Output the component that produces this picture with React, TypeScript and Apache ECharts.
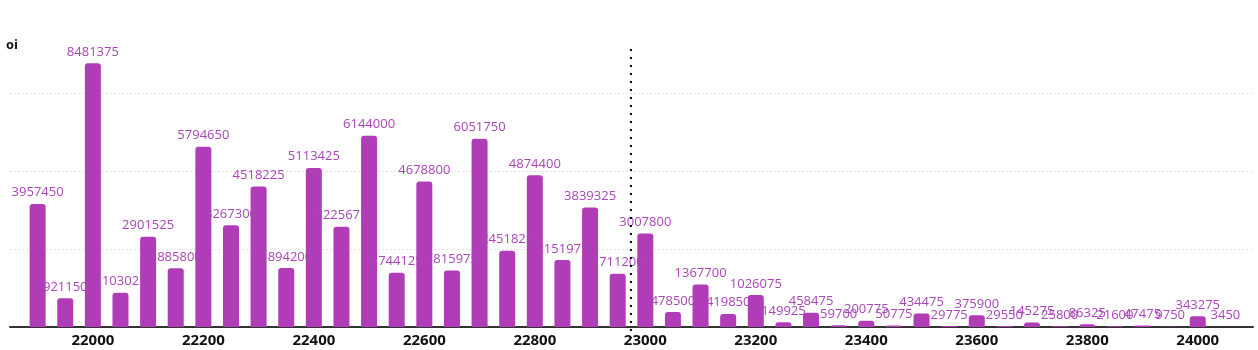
import React, { useEffect, useRef } from "react";
import * as echarts from "echarts";

const strikes = [
  21900, 21950, 22000, 22050, 22100, 22150, 22200, 22250, 22300, 22350,
  22400, 22450, 22500, 22550, 22600, 22650, 22700, 22750, 22800, 22850,
  22900, 22950, 23000, 23050, 23100, 23150, 23200, 23250, 23300, 23350,
  23400, 23450, 23500, 23550, 23600, 23650, 23700, 23750, 23800, 23850,
  23900, 23950, 24000, 24050,
];
const oi = [
  3957450, 921150, 8481375, 1103025, 2901525, 1885800, 5794650, 3267300, 4518225, 1894200,
  5113425, 3225675, 6144000, 1744125, 4678800, 1815975, 6051750, 2451825, 4874400, 2151975,
  3839325, 1711200, 3007800, 478500, 1367700, 419850, 1026075, 149925, 458475, 59700,
  200775, 50775, 434475, 29775, 375900, 29550, 145275, 25800, 86325, 21600,
  47475, 9750, 343275, 3450,
];
const gridValues = [2500000, 5000000, 7500000];
const spot = 22974;
const xMin = 21850;
const xMax = 24100;
const yMax = 9000000;

export default function App() {
  const ref = useRef<HTMLDivElement>(null);
  useEffect(() => {
    if (!ref.current) return;
    const chart = echarts.init(ref.current, undefined, { renderer: "svg" });
    const font = "'Open Sans', sans-serif";
    chart.setOption({
      animation: false,
      grid: { left: 10, right: 5, top: 47, bottom: 23 },
      xAxis: {
        type: "value",
        min: xMin,
        max: xMax,
        interval: 50,
        splitLine: { show: false },
        axisTick: { show: false },
        axisLine: { show: true, lineStyle: { color: "#333", width: 2 } },
        axisLabel: {
          margin: 4,
          color: "#111",
          fontWeight: "bold",
          fontSize: 15,
          fontFamily: font,
          showMinLabel: false,
          showMaxLabel: false,
          formatter: (v: number) => (v % 200 === 0 ? String(v) : ""),
        },
      },
      yAxis: {
        type: "value",
        min: 0,
        max: yMax,
        name: "oi",
        nameGap: -3,
        nameTextStyle: {
          color: "#111",
          fontWeight: "bold",
          fontSize: 13,
          fontFamily: font,
          align: "center",
          padding: [0, 0, 0, 4],
        },
        axisLine: { show: false },
        axisTick: { show: false },
        axisLabel: { show: false },
        splitLine: { show: false },
      },
      series: [
        {
          type: "bar",
          data: strikes.map((s, i) => [s, oi[i]]),
          barWidth: 16,
          itemStyle: { color: "#b13cb8", borderRadius: [3, 3, 0, 0] },
          label: {
            show: true,
            position: "top",
            color: "#a846b6",
            fontSize: 13,
            fontFamily: font,
            distance: 6,
          },
          markLine: {
            z: 1,
            silent: true,
            symbol: "none",
            label: { show: false },
            lineStyle: { color: "#e2e2e2", type: [2, 2], width: 1 },
            data: gridValues.map((v) => ({ yAxis: v })),
          },
        },
      ],
    });
    const px = chart.convertToPixel({ xAxisIndex: 0 }, spot) as number;
    chart.setOption({
      graphic: [
        {
          type: "line",
          z: 10,
          silent: true,
          shape: { x1: px, y1: 49, x2: px, y2: 338 },
          style: { stroke: "#000", lineWidth: 2, lineDash: [2, 6] },
        },
      ],
    });
    return () => chart.dispose();
  }, []);
  return <div ref={ref} style={{ position: "fixed", left: 0, top: 0, width: 1258, height: 350 }} />;
}
